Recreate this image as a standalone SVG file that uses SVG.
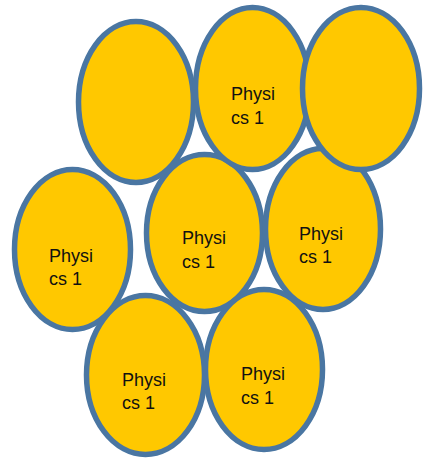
<svg xmlns="http://www.w3.org/2000/svg" width="423" height="462" viewBox="0 0 423 462">
<style>
.n ellipse{fill:#FFC800;stroke:#4A76A2;stroke-width:5.5}
.n text{font-family:"Liberation Sans",Arial,sans-serif;font-size:18px;fill:#111}
</style>
<rect width="423" height="462" fill="#fff"/>
<g id="connectors"/>
<g id="nodeD" class="n"><ellipse cx="72.5" cy="249.5" rx="58" ry="80"/><text x="49" y="262">Physi</text><text x="49" y="285">cs 1</text></g>
<g id="nodeE" class="n"><ellipse cx="204.5" cy="233" rx="58" ry="78.5"/><text x="182" y="244">Physi</text><text x="182" y="268">cs 1</text></g>
<g id="nodeF" class="n"><ellipse cx="323" cy="229" rx="57.5" ry="80.5"/><text x="299" y="240">Physi</text><text x="299" y="263">cs 1</text></g>
<g id="nodeA" class="n"><ellipse cx="136" cy="102" rx="57.5" ry="80.5"/></g>
<g id="nodeB" class="n"><ellipse cx="252.5" cy="88.5" rx="57" ry="81"/><text x="231" y="100">Physi</text><text x="231" y="124">cs 1</text></g>
<g id="nodeC" class="n"><ellipse cx="361" cy="88.5" rx="58.5" ry="81"/></g>
<g id="nodeG" class="n"><ellipse cx="145.5" cy="375" rx="59" ry="79.5"/><text x="122" y="386">Physi</text><text x="122" y="409">cs 1</text></g>
<g id="nodeH" class="n"><ellipse cx="264" cy="369.5" rx="58.5" ry="80"/><text x="241" y="380">Physi</text><text x="241" y="404">cs 1</text></g>
</svg>
